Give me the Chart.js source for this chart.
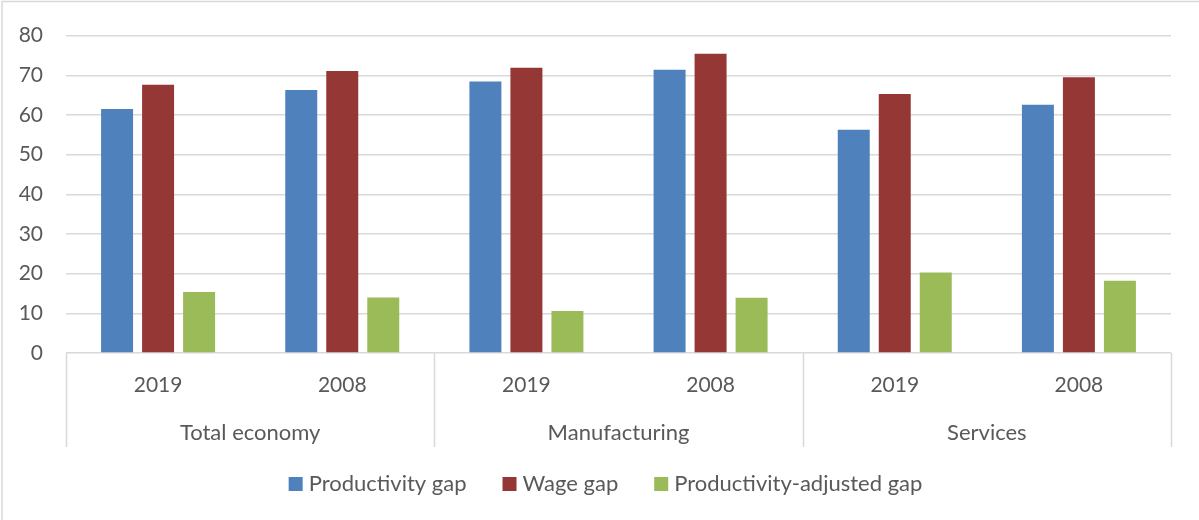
<!DOCTYPE html>
<html lang="en">
<head>
  <meta charset="UTF-8">
  <title>Productivity, wage and productivity-adjusted gaps</title>
  <script src="https://cdn.jsdelivr.net/npm/chart.js"></script>
  <style>
    html, body { margin: 0; padding: 0; background: #fff; }
    #wrap { width: 1199px; height: 520px; }
  </style>
</head>
<body>
  <div id="wrap"><canvas id="gapChart" width="1199" height="520"></canvas></div>

  <script>
    // Sectors and years shown on the two-level category axis
    const sectors = ['Total economy', 'Manufacturing', 'Services'];
    const years = ['2019', '2008'];

    // Series values, in the order sector x year
    const productivityGap = [61.5, 66.3, 68.4, 71.4, 56.3, 62.6];
    const wageGap = [67.6, 71.1, 71.9, 75.4, 65.3, 69.5];
    const adjustedGap = [15.4, 14.0, 10.6, 13.9, 20.3, 18.2];

    const yMin = 0, yMax = 80, yStep = 10;

    const labels = sectors.flatMap(() => years);
    const textColor = '#595959';
    const lineColor = '#D9D9D9';
    const fontFamily = 'Lato, "Liberation Sans", sans-serif';

    // Outer frame around the whole chart
    const framePlugin = {
      id: 'frame',
      beforeDraw(chart) {
        const ctx = chart.ctx;
        ctx.save();
        ctx.strokeStyle = lineColor;
        ctx.lineWidth = 1.5;
        ctx.beginPath();
        ctx.moveTo(2, chart.height);
        ctx.lineTo(2, 1.5);
        ctx.lineTo(chart.width, 1.5);
        ctx.stroke();
        ctx.restore();
      }
    };

    // Sector labels and separators below the year ticks
    const sectorAxisPlugin = {
      id: 'sectorAxis',
      afterDraw(chart) {
        const ctx = chart.ctx;
        const x = chart.scales.x;
        const bottom = chart.chartArea.bottom;
        const catW = (x.right - x.left) / labels.length;
        const per = years.length;
        ctx.save();
        ctx.strokeStyle = lineColor;
        ctx.lineWidth = 1.5;
        for (let i = 0; i <= sectors.length; i++) {
          const px = Math.round(x.left + i * per * catW) + 0.5;
          ctx.beginPath();
          ctx.moveTo(px, bottom);
          ctx.lineTo(px, bottom + 94);
          ctx.stroke();
        }
        ctx.fillStyle = textColor;
        ctx.font = '22px ' + fontFamily;
        ctx.textAlign = 'center';
        ctx.textBaseline = 'middle';
        sectors.forEach((s, i) => {
          const cx = x.left + (i * per + per / 2) * catW;
          ctx.fillText(s, cx, bottom + 80);
        });
        ctx.restore();
      }
    };

    // Legend row: small square, short gap, label
    const legendPlugin = {
      id: 'rowLegend',
      afterDraw(chart) {
        const ctx = chart.ctx;
        const box = 14, gap = 6, spacing = 36;
        ctx.save();
        ctx.font = '22px ' + fontFamily;
        ctx.textBaseline = 'middle';
        const items = chart.data.datasets.map(ds => ({
          text: ds.label,
          color: ds.backgroundColor,
          w: ctx.measureText(ds.label).width
        }));
        const total = items.reduce((a, it) => a + box + gap + it.w, 0) + spacing * (items.length - 1);
        let px = chart.width / 2 + 6 - total / 2;
        const cy = 484;
        items.forEach(it => {
          ctx.fillStyle = it.color;
          ctx.fillRect(px, cy - box / 2, box, box);
          ctx.fillStyle = textColor;
          ctx.fillText(it.text, px + box + gap, cy);
          px += box + gap + it.w + spacing;
        });
        ctx.restore();
      }
    };

    const ctx = document.getElementById('gapChart').getContext('2d');
    const gapChart = new Chart(ctx, {
      type: 'bar',
      data: {
        labels: labels,
        datasets: [
          { label: 'Productivity gap', data: productivityGap, backgroundColor: '#4F81BD' },
          { label: 'Wage gap', data: wageGap, backgroundColor: '#953735' },
          { label: 'Productivity-adjusted gap', data: adjustedGap, backgroundColor: '#9BBB59' }
        ]
      },
      options: {
        responsive: false,
        animation: false,
        categoryPercentage: 0.668,
        barPercentage: 0.78,
        layout: { padding: { top: 31, right: 28, bottom: 57, left: 0 } },
        plugins: {
          legend: { display: false },
          tooltip: { enabled: false }
        },
        scales: {
          x: {
            grid: { display: false, drawTicks: false },
            border: { display: false },
            ticks: {
              color: textColor,
              padding: 20,
              font: { family: fontFamily, size: 21 },
              maxRotation: 0
            },
            afterFit(scale) { scale.height = 110; }
          },
          y: {
            min: yMin,
            max: yMax,
            grid: { color: lineColor, lineWidth: 1.5, drawTicks: false },
            border: { display: false },
            ticks: {
              stepSize: yStep,
              color: textColor,
              padding: 23,
              font: { family: fontFamily, size: 21 }
            },
            afterFit(scale) { scale.width = 66; }
          }
        }
      },
      plugins: [framePlugin, sectorAxisPlugin, legendPlugin]
    });
  </script>
</body>
</html>
